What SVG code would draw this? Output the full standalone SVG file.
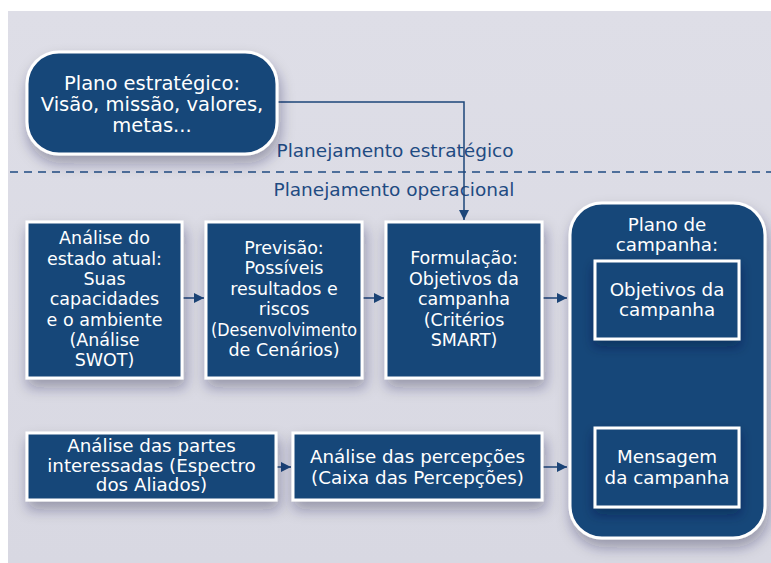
<svg xmlns="http://www.w3.org/2000/svg" width="771" height="563" viewBox="0 0 771 563">
<defs>
<filter id="sh" x="-20%" y="-20%" width="150%" height="160%">
<feDropShadow dx="2" dy="8" stdDeviation="7" flood-color="#1b2340" flood-opacity="0.35"/>
</filter>
<filter id="sh2" x="-20%" y="-20%" width="150%" height="160%">
<feDropShadow dx="0" dy="6" stdDeviation="6" flood-color="#0a1f40" flood-opacity="0.45"/>
</filter>
<marker id="ah" viewBox="0 0 10 10" refX="10" refY="5" markerWidth="10" markerHeight="10" markerUnits="userSpaceOnUse" orient="auto">
<path d="M0,0 L10,5 L0,10 Z" fill="#1c4679"/>
</marker>
<linearGradient id="bg" x1="0" y1="0" x2="0" y2="1">
<stop offset="0" stop-color="#dedee7"/>
<stop offset="1" stop-color="#d8d8e2"/>
</linearGradient>
</defs>
<style>
.box{fill:#184679;stroke:#ffffff;stroke-width:3}
.inner{fill:#184679;stroke:#ffffff;stroke-width:3}
.t{font-family:"DejaVu Sans","Open Sans",sans-serif;font-size:17.5px;fill:#ffffff;text-anchor:middle}
.t2{font-size:18.3px}
.t3{font-size:19.5px}
.lbl{font-family:"DejaVu Sans","Open Sans",sans-serif;font-size:18.5px;fill:#1f4b82;text-anchor:middle}
.c{fill:none;stroke:#1c4679;stroke-width:1.5}
</style>
<rect x="0" y="0" width="771" height="563" fill="#ffffff"/>
<rect x="8" y="11" width="763" height="552" fill="url(#bg)"/>

<g id="labels">
<text class="lbl" x="395" y="157">Planejamento estratégico</text>
<line x1="10" y1="172" x2="771" y2="172" stroke="#1f4b82" stroke-width="1.5" stroke-dasharray="8,6"/>
<text class="lbl" x="394" y="196">Planejamento operacional</text>
</g>

<g id="connectors">
<path class="c" d="M277,102 H464 V220" marker-end="url(#ah)"/>
<line class="c" x1="183" y1="298" x2="204" y2="298" marker-end="url(#ah)"/>
<line class="c" x1="363" y1="298" x2="384" y2="298" marker-end="url(#ah)"/>
<line class="c" x1="543" y1="298" x2="567" y2="298" marker-end="url(#ah)"/>
<line class="c" x1="277" y1="467" x2="291" y2="467" marker-end="url(#ah)"/>
<line class="c" x1="543" y1="467" x2="567" y2="467" marker-end="url(#ah)"/>
</g>

<g id="plano-estrategico">
<rect class="box" x="27" y="52" width="250" height="102" rx="32" filter="url(#sh)"/>
<text class="t t3" x="152" y="90">Plano estratégico:</text>
<text class="t t3" x="152" y="111">Visão, missão, valores,</text>
<text class="t t3" x="152" y="132">metas...</text>
</g>

<g id="analise-estado">
<rect class="box" x="27" y="222" width="155" height="156" filter="url(#sh)"/>
<text class="t" x="104.5" y="244">Análise do</text>
<text class="t" x="104.5" y="265">estado atual:</text>
<text class="t" x="104.5" y="285">Suas</text>
<text class="t" x="104.5" y="305">capacidades</text>
<text class="t" x="104.5" y="326">e o ambiente</text>
<text class="t" x="104.5" y="346">(Análise</text>
<text class="t" x="104.5" y="366">SWOT)</text>
</g>

<g id="previsao">
<rect class="box" x="206" y="222" width="156" height="156" filter="url(#sh)"/>
<text class="t" x="284" y="254">Previsão:</text>
<text class="t" x="284" y="274">Possíveis</text>
<text class="t" x="284" y="295">resultados e</text>
<text class="t" x="284" y="315">riscos</text>
<text class="t" x="284" y="336" textLength="146" lengthAdjust="spacingAndGlyphs">(Desenvolvimento</text>
<text class="t" x="284" y="356">de Cenários)</text>
</g>

<g id="formulacao">
<rect class="box" x="386" y="222" width="156" height="156" filter="url(#sh)"/>
<text class="t" x="464" y="264">Formulação:</text>
<text class="t" x="464" y="285">Objetivos da</text>
<text class="t" x="464" y="305">campanha</text>
<text class="t" x="464" y="326">(Critérios</text>
<text class="t" x="464" y="346">SMART)</text>
</g>

<g id="partes-interessadas">
<rect class="box" x="27" y="433" width="249" height="67" filter="url(#sh)"/>
<text class="t t2" x="151.5" y="452">Análise das partes</text>
<text class="t t2" x="151.5" y="472">interessadas (Espectro</text>
<text class="t t2" x="151.5" y="491">dos Aliados)</text>
</g>

<g id="percepcoes">
<rect class="box" x="293" y="433" width="249" height="67" filter="url(#sh)"/>
<text class="t t2" x="417.5" y="463">Análise das percepções</text>
<text class="t t2" x="417.5" y="484">(Caixa das Percepções)</text>
</g>

<g id="plano-campanha">
<rect class="box" x="570" y="203" width="195" height="335" rx="32" filter="url(#sh)"/>
<text class="t t2" x="667" y="231">Plano de</text>
<text class="t t2" x="667" y="251">campanha:</text>
</g>

<g id="objetivos-campanha">
<rect class="inner" x="595" y="261" width="144" height="78" filter="url(#sh2)"/>
<text class="t t2" x="667" y="296">Objetivos da</text>
<text class="t t2" x="667" y="316">campanha</text>
</g>

<g id="mensagem-campanha">
<rect class="inner" x="595" y="428" width="144" height="79" filter="url(#sh2)"/>
<text class="t t2" x="667" y="463">Mensagem</text>
<text class="t t2" x="667" y="484">da campanha</text>
</g>
</svg>
